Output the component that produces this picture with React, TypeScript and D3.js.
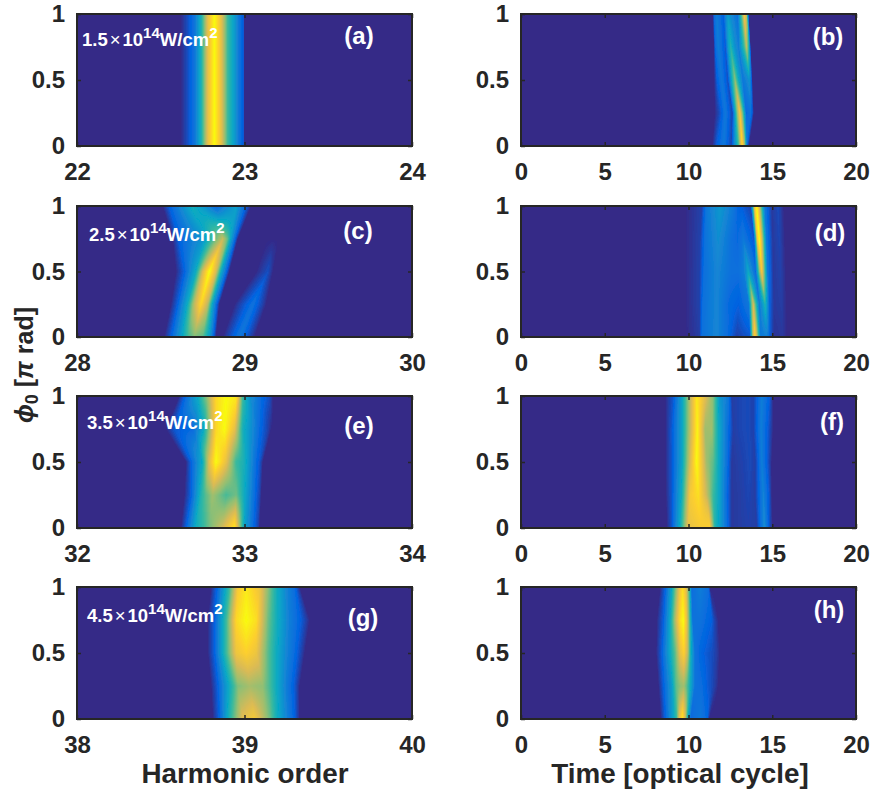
import React, { useEffect, useRef } from "react";
import * as d3 from "d3";

const intensityLabels = ["1.5", "2.5", "3.5", "4.5"];
const panelLetters = ["(a)", "(b)", "(c)", "(d)", "(e)", "(f)", "(g)", "(h)"];
const harmonicDomains = [[22, 24], [28, 30], [32, 34], [38, 40]];
const timeDomain = [0, 20];
const timeTicks = [0, 5, 10, 15, 20];
const phiTicks = [0, 0.5, 1];
const phiRows = [0, 0.25, 0.5, 0.75, 1];

// each panel: per phi row (0 -> 1), ridge knot positions and intensity at the knots
const aX = [22.62, 22.66, 22.7, 22.74, 22.78, 22.82, 22.86, 22.9, 22.94, 22.97, 22.995, 23.0];
const aV = [0, 0.08, 0.18, 0.42, 0.78, 1.0, 0.8, 0.5, 0.33, 0.18, 0.1, 0];

const bX = [
  [11.42, 11.68, 12.1, 12.55, 12.98, 13.21, 13.38, 13.47, 13.5, 13.53, 13.57, 13.62],
  [11.55, 11.8, 12.2, 12.62, 12.9, 13.07, 13.25, 13.45, 13.6, 13.72, 13.82, 13.9],
  [11.52, 11.7, 11.98, 12.35, 12.62, 12.78, 12.98, 13.25, 13.5, 13.63, 13.72, 13.82],
  [11.5, 11.6, 11.78, 12.2, 12.38, 12.52, 12.75, 13.0, 13.32, 13.47, 13.6, 13.72],
  [11.45, 11.52, 11.68, 12.08, 12.22, 12.34, 12.6, 12.93, 13.2, 13.33, 13.47, 13.6],
];
const bV = [
  [0, 0.12, 0.2, 0.06, 0.5, 0.92, 0.6, 0.25, 0.18, 0.12, 0.05, 0],
  [0, 0.06, 0.2, 0.06, 0.6, 0.85, 0.55, 0.15, 0.16, 0.17, 0.1, 0],
  [0, 0.12, 0.2, 0.08, 0.45, 0.62, 0.4, 0.2, 0.25, 0.3, 0.2, 0],
  [0, 0.15, 0.22, 0.1, 0.35, 0.45, 0.3, 0.22, 0.5, 0.7, 0.45, 0],
  [0, 0.15, 0.22, 0.12, 0.25, 0.33, 0.25, 0.17, 0.6, 0.85, 0.7, 0],
];

const cX = [
  [28.52, 28.56, 28.61, 28.66, 28.7, 28.75, 28.79, 28.83, 28.87, 28.97, 29.06],
  [28.56, 28.6, 28.66, 28.7, 28.74, 28.78, 28.81, 28.85, 28.94, 29.05, 29.13],
  [28.59, 28.64, 28.71, 28.75, 28.79, 28.83, 28.86, 28.91, 29.07, 29.14, 29.17],
  [28.57, 28.61, 28.75, 28.82, 28.87, 28.9, 28.92, 28.96, 29.13, 29.17, 29.21],
  [28.51, 28.55, 28.69, 28.76, 28.83, 28.89, 28.95, 29.04, 29.07, 29.09, 29.11],
];
const cV = [
  [0, 0.12, 0.3, 0.5, 0.6, 0.55, 0.35, 0, 0, 0.2, 0],
  [0, 0.12, 0.4, 0.7, 0.9, 0.7, 0.35, 0, 0, 0.18, 0],
  [0, 0.12, 0.4, 0.75, 1.0, 0.75, 0.4, 0, 0, 0.08, 0],
  [0, 0.13, 0.3, 0.55, 0.72, 0.55, 0.35, 0, 0, 0, 0],
  [0, 0.12, 0.42, 0.3, 0.13, 0.25, 0.35, 0, 0, 0, 0],
];

const dX = [
  [9.79, 10.65, 10.79, 11.68, 12.28, 12.88, 13.65, 13.85, 13.97, 14.09, 14.31, 14.55, 14.67, 14.75, 14.9, 15.1, 15.62, 15.9],
  [9.79, 10.65, 10.85, 11.68, 12.38, 13.0, 13.6, 13.75, 13.87, 13.99, 14.23, 14.45, 14.57, 14.67, 14.85, 15.1, 15.56, 15.86],
  [9.79, 10.65, 10.93, 11.72, 12.58, 12.98, 13.3, 13.45, 13.57, 13.69, 14.0, 14.25, 14.37, 14.49, 14.72, 15.06, 15.5, 15.82],
  [9.79, 10.69, 10.99, 11.78, 12.58, 12.92, 13.1, 13.18, 13.27, 13.38, 13.91, 14.11, 14.23, 14.35, 14.65, 15.03, 15.42, 15.76],
  [9.79, 10.79, 11.08, 11.88, 12.68, 12.92, 13.05, 13.1, 13.17, 13.3, 13.71, 13.95, 14.07, 14.19, 14.55, 14.97, 15.36, 15.7],
];
const dV = [
  [0, 0.04, 0.17, 0.25, 0.17, 0.05, 0.1, 0.7, 0.9, 0.7, 0.2, 0.22, 0.22, 0.2, 0.1, 0.02, 0.03, 0],
  [0, 0.05, 0.17, 0.25, 0.15, 0.12, 0.2, 0.55, 0.75, 0.55, 0.2, 0.35, 0.45, 0.35, 0.12, 0.03, 0.04, 0],
  [0, 0.05, 0.17, 0.25, 0.17, 0.17, 0.22, 0.3, 0.38, 0.3, 0.15, 0.65, 0.85, 0.65, 0.2, 0.03, 0.05, 0],
  [0, 0.05, 0.18, 0.28, 0.17, 0.15, 0.17, 0.18, 0.2, 0.18, 0.1, 0.85, 1.0, 0.8, 0.2, 0.03, 0.06, 0],
  [0, 0.05, 0.2, 0.32, 0.2, 0.14, 0.12, 0.12, 0.12, 0.1, 0.06, 0.85, 1.0, 0.8, 0.2, 0.03, 0.07, 0],
];

const eX = [
  [32.62, 32.65, 32.71, 32.75, 32.79, 32.87, 32.94, 33.0, 33.06, 33.08, 33.09, 33.11],
  [32.64, 32.68, 32.74, 32.77, 32.81, 32.89, 32.95, 33.01, 33.07, 33.09, 33.1, 33.11],
  [32.65, 32.68, 32.75, 32.79, 32.83, 32.89, 32.95, 33.0, 33.07, 33.09, 33.11, 33.13],
  [32.53, 32.58, 32.69, 32.75, 32.83, 32.88, 32.94, 32.99, 33.09, 33.14, 33.16, 33.17],
  [32.61, 32.65, 32.73, 32.78, 32.83, 32.89, 32.95, 32.99, 33.03, 33.09, 33.15, 33.17],
];
const eV = [
  [0, 0.12, 0.4, 0.48, 0.58, 0.75, 0.95, 0.35, 0.12, 0.06, 0, 0],
  [0, 0.12, 0.45, 0.55, 0.65, 0.52, 0.58, 0.35, 0.12, 0.06, 0, 0],
  [0, 0.12, 0.4, 0.78, 1.0, 0.8, 0.5, 0.42, 0.15, 0.1, 0, 0],
  [0, 0.1, 0.15, 0.35, 0.9, 1.0, 0.8, 0.42, 0.15, 0.05, 0, 0],
  [0, 0.15, 0.42, 0.65, 0.9, 1.0, 0.95, 0.5, 0.3, 0.17, 0.08, 0],
];

const fX = [
  [8.7, 9.0, 9.49, 9.99, 10.69, 11.28, 11.58, 11.98, 12.38, 12.58, 13.07, 13.57, 14.07, 14.53, 14.9, 15.03],
  [8.64, 9.0, 9.59, 10.09, 10.59, 11.08, 11.48, 11.88, 12.28, 12.58, 13.07, 13.57, 13.97, 14.47, 14.83, 14.97],
  [8.6, 9.0, 9.59, 10.09, 10.49, 11.08, 11.48, 11.88, 12.28, 12.58, 13.17, 13.67, 13.97, 14.37, 14.73, 14.97],
  [8.6, 8.99, 9.59, 10.09, 10.53, 10.99, 11.38, 11.78, 12.38, 12.68, 13.07, 13.57, 13.87, 14.33, 14.77, 15.06],
  [8.6, 9.09, 9.59, 10.09, 10.49, 11.08, 11.48, 11.88, 12.38, 12.58, 13.07, 13.57, 13.87, 14.37, 14.83, 15.06],
];
const fV = [
  [0, 0.1, 0.4, 0.8, 0.85, 0.88, 0.45, 0.3, 0.12, 0.03, 0.04, 0.05, 0.04, 0.28, 0.05, 0],
  [0, 0.1, 0.4, 0.85, 0.92, 0.72, 0.5, 0.35, 0.15, 0.03, 0.04, 0.06, 0.04, 0.24, 0.1, 0],
  [0, 0.1, 0.35, 0.75, 1.0, 0.65, 0.55, 0.35, 0.18, 0.03, 0.05, 0.07, 0.04, 0.22, 0.1, 0],
  [0, 0.1, 0.35, 0.7, 0.98, 0.65, 0.65, 0.4, 0.15, 0.04, 0.06, 0.07, 0.05, 0.22, 0.1, 0],
  [0, 0.1, 0.35, 0.7, 0.95, 0.75, 0.6, 0.3, 0.2, 0.04, 0.06, 0.07, 0.05, 0.22, 0.12, 0],
];

const gX = [
  [38.81, 38.85, 38.91, 38.99, 39.06, 39.11, 39.15, 39.19, 39.25, 39.3, 39.33],
  [38.8, 38.84, 38.91, 38.96, 39.03, 39.11, 39.15, 39.19, 39.25, 39.3, 39.33],
  [38.78, 38.82, 38.89, 38.95, 39.01, 39.07, 39.14, 39.19, 39.25, 39.31, 39.36],
  [38.78, 38.82, 38.89, 38.95, 39.01, 39.07, 39.14, 39.19, 39.27, 39.33, 39.39],
  [38.8, 38.84, 38.91, 38.96, 39.01, 39.09, 39.14, 39.19, 39.25, 39.3, 39.33],
];
const gV = [
  [0, 0.13, 0.45, 0.78, 0.85, 0.7, 0.58, 0.42, 0.25, 0.12, 0],
  [0, 0.12, 0.4, 0.6, 0.66, 0.62, 0.52, 0.4, 0.22, 0.1, 0],
  [0, 0.12, 0.5, 0.82, 0.88, 0.82, 0.55, 0.4, 0.25, 0.13, 0],
  [0, 0.12, 0.5, 0.9, 1.0, 0.92, 0.58, 0.42, 0.22, 0.13, 0],
  [0, 0.15, 0.5, 0.85, 0.95, 0.82, 0.62, 0.42, 0.25, 0.15, 0],
];

const hX = [
  [8.34, 8.6, 9.09, 9.29, 9.45, 9.63, 9.8, 9.93, 10.13, 10.69, 11.12, 11.24, 11.48],
  [8.2, 8.5, 9.0, 9.25, 9.5, 9.72, 9.9, 10.13, 10.39, 10.79, 11.28, 11.64, 11.78],
  [8.06, 8.4, 8.8, 9.2, 9.5, 9.73, 9.95, 10.13, 10.39, 10.79, 11.38, 11.68, 11.88],
  [8.1, 8.5, 8.9, 9.25, 9.5, 9.69, 9.88, 10.05, 10.25, 10.69, 11.38, 11.58, 11.78],
  [8.3, 8.6, 9.0, 9.29, 9.45, 9.65, 9.85, 10.05, 10.19, 10.69, 11.18, 11.28, 11.48],
];
const hV = [
  [0, 0.12, 0.37, 0.5, 0.8, 0.95, 0.75, 0.45, 0.15, 0.2, 0.14, 0, 0],
  [0, 0.12, 0.33, 0.55, 0.62, 0.65, 0.55, 0.38, 0.18, 0.16, 0.09, 0.03, 0],
  [0, 0.12, 0.33, 0.55, 0.8, 0.88, 0.7, 0.42, 0.18, 0.13, 0.08, 0.04, 0],
  [0, 0.12, 0.38, 0.72, 0.92, 1.0, 0.82, 0.55, 0.18, 0.18, 0.12, 0.05, 0],
  [0, 0.12, 0.38, 0.65, 0.8, 0.92, 0.8, 0.5, 0.16, 0.22, 0.16, 0, 0],
];

const panelX = [aX, bX, cX, dX, eX, fX, gX, hX];
const panelV = [aV, bV, cV, dV, eV, fV, gV, hV];

const parulaStops = ["#352a87", "#0363e1", "#1485d4", "#06a7c6", "#38b99e", "#92bf73", "#d9ba56", "#fcce2e", "#f9fb0e"];

const W = 871;
const H = 800;
const colLeft = [77, 521];
const colWidth = 335;
const rowTop = [14, 206, 396, 587];
const rowBottom = [146, 337, 528, 719];
const letterPos = [[359, 44], [828, 45], [358, 239], [830, 241], [359, 434], [832, 430], [363, 626], [829, 618]];
const intensityPos = [[82, 46], [89, 241], [87, 429], [87, 622]];
const INK = "#262626";
const FONT = "'Liberation Sans', Arial, sans-serif";

function lerp(a: number, b: number, t: number) {
  return a + (b - a) * t;
}

export default function App() {
  const ref = useRef<SVGSVGElement | null>(null);
  useEffect(() => {
    const svg = d3.select(ref.current);
    svg.selectAll("*").remove();
    const color = d3
      .scaleLinear<string>()
      .domain(parulaStops.map((_, i) => i / (parulaStops.length - 1)))
      .range(parulaStops)
      .clamp(true);
    const defs = svg.append("defs");
    defs.append("filter").attr("id", "soft").attr("x", "-2%").attr("y", "-2%").attr("width", "104%").attr("height", "104%")
      .append("feGaussianBlur").attr("stdDeviation", 0.7);

    panelLetters.forEach((letter, p) => {
      const row = Math.floor(p / 2);
      const col = p % 2;
      const x = d3.scaleLinear().domain(col === 0 ? harmonicDomains[row] : timeDomain).range([colLeft[col], colLeft[col] + colWidth]);
      const y = d3.scaleLinear().domain([0, 1]).range([rowBottom[row], rowTop[row]]);
      const xTicks = col === 0 ? d3.range(harmonicDomains[row][0], harmonicDomains[row][1] + 1) : timeTicks;

      const g = svg.append("g");
      const heat = g.append("g").attr("filter", "url(#soft)");
      heat.append("rect").attr("x", x.range()[0]).attr("y", y.range()[1]).attr("width", colWidth).attr("height", y.range()[0] - y.range()[1]).attr("fill", parulaStops[0]);

      const rawX = panelX[p];
      const rawV = panelV[p];
      const rowsX: number[][] = Array.isArray(rawX[0]) ? (rawX as number[][]) : phiRows.map(() => rawX as number[]);
      const rowsV: number[][] = Array.isArray(rawV[0]) ? (rawV as number[][]) : phiRows.map(() => rawV as number[]);
      const rowIndex = d3.scaleLinear().domain(phiRows).range(phiRows.map((_, i) => i)).clamp(true);

      const frag = heat.append("g").attr("shape-rendering", "crispEdges");
      const minX = d3.min(rowsX, (r) => r[0]) as number;
      const maxX = d3.max(rowsX, (r) => r[r.length - 1]) as number;
      for (let py = rowTop[row]; py < rowBottom[row]; py++) {
        const phi = y.invert(py + 0.5);
        const ri = rowIndex(phi);
        const j = Math.min(Math.floor(ri), phiRows.length - 2);
        const t = ri - j;
        const xs = rowsX[j].map((v, i) => lerp(v, rowsX[j + 1][i], t));
        const vs = rowsV[j].map((v, i) => lerp(v, rowsV[j + 1][i], t));
        const profile = d3.scaleLinear().domain(xs).range(vs).clamp(true);
        const startPx = Math.floor(x(minX));
        const endPx = Math.ceil(x(maxX));
        let runStart = -1;
        let runLevel = -1;
        const flush = (end: number) => {
          if (runLevel > 0) {
            frag.append("rect").attr("x", runStart).attr("y", py).attr("width", end - runStart).attr("height", 1).attr("fill", color(runLevel / 200));
          }
        };
        for (let px = startPx; px <= endPx; px++) {
          const level = Math.round(profile(x.invert(px + 0.5)) * 200);
          if (level !== runLevel) {
            flush(px);
            runStart = px;
            runLevel = level;
          }
        }
        flush(endPx + 1);
      }

      // frame
      g.append("rect").attr("x", x.range()[0]).attr("y", y.range()[1]).attr("width", colWidth).attr("height", y.range()[0] - y.range()[1]).attr("fill", "none").attr("stroke", INK).attr("stroke-width", 2);

      // axes
      const axB = d3.axisBottom(x).tickValues(xTicks).tickFormat(d3.format("d") as any).tickSizeInner(-4).tickSizeOuter(0).tickPadding(17);
      const axL = d3.axisLeft(y).tickValues(phiTicks).tickFormat((d) => String(d)).tickSizeInner(-4).tickSizeOuter(0).tickPadding(12);
      const axT = d3.axisTop(x).tickValues(xTicks).tickFormat(() => "").tickSizeInner(-4).tickSizeOuter(0);
      const axR = d3.axisRight(y).tickValues(phiTicks).tickFormat(() => "").tickSizeInner(-4).tickSizeOuter(0);
      const style = (sel: any) => {
        sel.select(".domain").remove();
        sel.selectAll("line").attr("stroke", INK).attr("stroke-width", 1.5);
        sel.selectAll("text").attr("fill", INK).attr("font-family", FONT).attr("font-weight", 700).attr("font-size", 24);
      };
      style(g.append("g").attr("transform", `translate(0,${rowBottom[row]})`).call(axB));
      style(g.append("g").attr("transform", `translate(${colLeft[col]},0)`).call(axL));
      style(g.append("g").attr("transform", `translate(0,${rowTop[row]})`).call(axT));
      style(g.append("g").attr("transform", `translate(${colLeft[col] + colWidth},0)`).call(axR));

      // panel letter
      g.append("text").attr("x", letterPos[p][0]).attr("y", letterPos[p][1]).attr("text-anchor", "middle").attr("fill", "#fff").attr("font-family", FONT).attr("font-weight", 700).attr("font-size", 24).text(letter);

      // intensity label
      if (col === 0) {
        const tx = g.append("text").attr("x", intensityPos[row][0]).attr("y", intensityPos[row][1]).attr("fill", "#fff").attr("font-family", FONT).attr("font-weight", 700).attr("font-size", 18.5);
        tx.append("tspan").text(intensityLabels[row]);
        tx.append("tspan").attr("font-weight", 400).attr("dx", 2).text("×");
        tx.append("tspan").attr("dx", 2).text("10");
        tx.append("tspan").attr("font-size", 15).attr("dy", -8).text("14");
        tx.append("tspan").attr("dy", 8).text("W/cm");
        tx.append("tspan").attr("font-size", 15).attr("dy", -8).text("2");
      }
    });

    const label = (x: number, yy: number, t: string) =>
      svg.append("text").attr("x", x).attr("y", yy).attr("text-anchor", "middle").attr("fill", INK).attr("font-family", FONT).attr("font-weight", 700).attr("font-size", 27.8).text(t);
    label(245, 783, "Harmonic order");
    label(680, 783, "Time [optical cycle]");

    const yl = svg.append("text").attr("transform", "translate(33,365) rotate(-90)").attr("text-anchor", "middle").attr("fill", INK).attr("font-family", FONT).attr("font-weight", 700).attr("font-size", 25);
    yl.append("tspan").attr("font-style", "italic").text("ϕ");
    yl.append("tspan").attr("font-size", 18).attr("dy", 5).text("0");
    yl.append("tspan").attr("dy", -5).text(" [");
    yl.append("tspan").attr("font-style", "italic").text("π");
    yl.append("tspan").text(" rad]");
  }, []);
  return <svg ref={ref} width={W} height={H} style={{ position: "absolute", left: 0, top: 0, display: "block", background: "#fff" }} />;
}
